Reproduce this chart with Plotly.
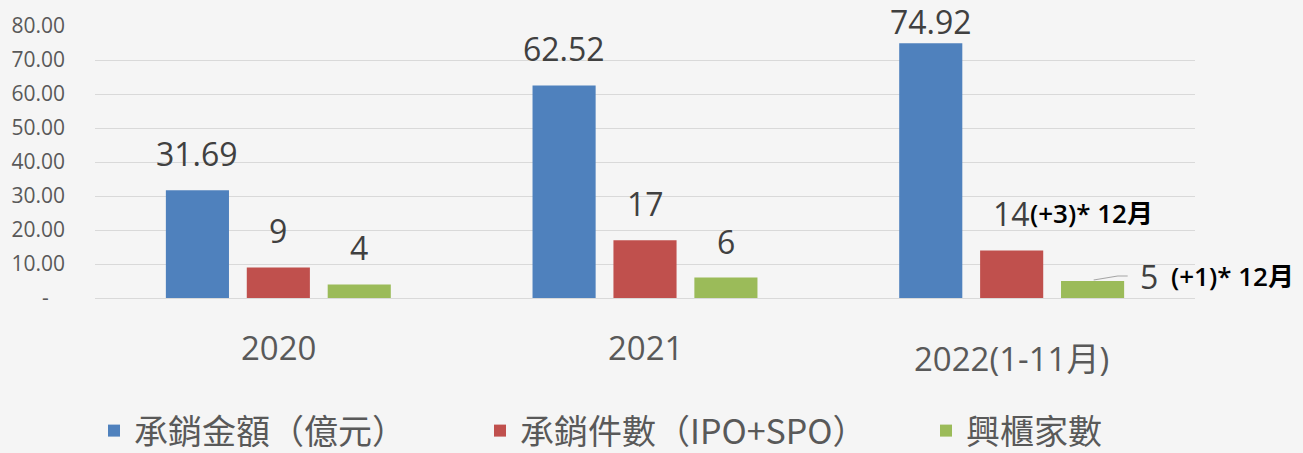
import plotly.graph_objects as go

# ---- data ----
categories = ["2020", "2021", "2022(1-11月)"]
series_names = ["承銷金額（億元）", "承銷件數（IPO+SPO）", "興櫃家數"]
amount = [31.69, 62.52, 74.92]
count = [9, 17, 14]
emerging = [4, 6, 5]
value_labels = [["31.69", "62.52", "74.92"], ["9", "17", "14"], ["4", "6", "5"]]
note_red = "(+3)* 12月"
note_green = "(+1)* 12月"
y_tickvals = [0, 10, 20, 30, 40, 50, 60, 70, 80]
y_ticktext = ["-\u00a0\u00a0\u00a0", "10.00", "20.00", "30.00", "40.00", "50.00", "60.00", "70.00", "80.00"]

# ---- styles ----
colors = ["#4F81BD", "#C0504D", "#9BBB59"]
bg = "#f5f5f5"
grid = "#d9d9d9"
txt = "#404040"
axis_txt = "#595959"
num_font = "Open Sans, Noto Sans CJK TC, sans-serif"
cjk_font = "Noto Sans CJK TC, sans-serif"

series = [amount, count, emerging]
fig = go.Figure()
legend_ids = ["legend", "legend2", "legend3"]
for i, (name, vals) in enumerate(zip(series_names, series)):
    fig.add_trace(go.Bar(
        x=categories, y=vals, name=name, marker=dict(color=colors[i], line=dict(width=0)),
        legend=legend_ids[i], hoverinfo="x+y+name",
    ))

annotations = []
xoffs = [-81, 0, 81]
for s, vals in enumerate(series):
    for c, v in enumerate(vals):
        if s == 2 and c == 2:
            continue  # placed beside bar
        ys = 13
        if s == 0 and c == 2:
            ys = -2
        annotations.append(dict(
            x=c, y=v, xref="x", yref="y", text=value_labels[s][c],
            showarrow=False, xanchor="center", yanchor="bottom", xshift=xoffs[s], yshift=ys,
            font=dict(family=num_font, size=32, color=txt),
        ))

# extra notes for 2022
annotations.append(dict(
    x=2, y=count[2], xref="x", yref="y", text=note_red, showarrow=False,
    xanchor="left", yanchor="middle", xshift=16, yshift=37,
    font=dict(family=num_font, size=26, color="#000000", weight=600),
))
annotations.append(dict(
    x=2, y=emerging[2], xref="x", yref="y", text=value_labels[2][2], showarrow=False,
    xanchor="center", yanchor="middle", xshift=137, yshift=5,
    font=dict(family=num_font, size=32, color=txt),
))
annotations.append(dict(
    x=2, y=emerging[2], xref="x", yref="y", text=note_green, showarrow=False,
    xanchor="left", yanchor="middle", xshift=157, yshift=5,
    font=dict(family=num_font, size=26, color="#000000", weight=600),
))

# category labels
cat_shift = [-49, -49, -60]
for c, cat in enumerate(categories):
    annotations.append(dict(
        x=c, y=0, xref="x", yref="y", text=cat, showarrow=False,
        xanchor="center", yanchor="middle", yshift=cat_shift[c],
        font=dict(family=num_font, size=33, color=axis_txt),
    ))

shapes = [dict(
    type="path", xref="x", yref="y", xsizemode="pixel", ysizemode="pixel",
    xanchor=2, yanchor=emerging[2],
    path="M82,1 L106,5 L116,5", line=dict(color="#a6a6a6", width=1.2),
)]

legend_common = dict(
    orientation="h", yanchor="middle", xanchor="left", bgcolor="rgba(0,0,0,0)",
    xref="container", yref="container",
    font=dict(family=cjk_font, size=34, color=axis_txt),
)
WC, HC = 1303.0, 453.0
ly = (HC - 431) / HC
fig.update_layout(
    width=1303, height=453,
    margin=dict(l=95, r=108, t=26, b=155),
    paper_bgcolor=bg, plot_bgcolor=bg,
    barmode="group", bargap=0.338, bargroupgap=0.22,
    showlegend=True,
    legend=dict(**legend_common, x=94 / WC, y=ly),
    legend2=dict(**legend_common, x=480 / WC, y=ly),
    legend3=dict(**legend_common, x=926 / WC, y=ly),
    xaxis=dict(type="category", categoryorder="array", categoryarray=categories,
               range=[-0.5, 2.5], showticklabels=False, showgrid=False, zeroline=False,
               showline=False, ticks=""),
    yaxis=dict(range=[0, 80], tickvals=y_tickvals, ticktext=y_ticktext, showgrid=True,
               gridcolor=grid, gridwidth=1, zeroline=True, zerolinecolor=grid, zerolinewidth=1,
               showline=False, ticks="", ticklabelstandoff=29,
               tickfont=dict(family=num_font, size=21, color=axis_txt)),
    annotations=annotations,
    shapes=shapes,
)

fig.write_html("out.html", config={"displayModeBar": False},
               post_script="document.body.style.margin='0';")
